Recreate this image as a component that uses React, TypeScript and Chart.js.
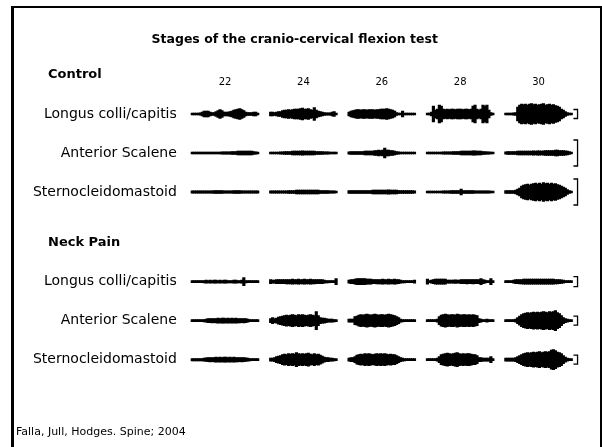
import React, { useEffect, useRef } from 'react';
import { Chart, registerables } from 'chart.js';

Chart.register(...registerables);

// ---- categories / labels ----
const titleText = 'Stages of the cranio-cervical flexion test';
const stages = [22, 24, 26, 28, 30];
const groups = ['Control', 'Neck Pain'];
const muscles = ['Longus colli/capitis', 'Anterior Scalene', 'Sternocleidomastoid'];
const sourceText = 'Falla, Jull, Hodges. Spine; 2004';

// ---- EMG envelope amplitudes (half peak-to-peak, a.u.), 34 samples per stage ----
// Control – Longus colli/capitis
const CL22 = [1,1,1,1,1.2,2,3,3,3,2,1.5,1.5,2.5,3.5,4.5,3.5,2,1.8,2,2.5,3,4,4.5,5,5.5,4.5,3.5,2,1.5,1.5,1.5,2,2,1];
const CL24 = [2,2,1.5,2,2.5,2.5,3.5,4,4,4.5,4,4.5,5,5,5,5.5,6,5,5,5.5,4.5,4,6.5,4,3,2.5,2,1.5,1.2,1.2,1.2,2,2.5,1];
const CL26 = [2,3,3.5,4,4.5,4.5,4,4.5,4.5,4,4.5,4.5,4.5,4,4.5,4.5,5,5,5,5.5,5,4.5,4,3,1.5,1,1,3,1,1,1,1,1,1];
const CL28 = [1,1,2,8,4,5,9,8,5,4.5,5,4.5,5,5,4.5,5,5,5,4.5,5,5,4.5,5,8,9,5,4,5,9,8,9,4,1.5,1];
const CL30 = [1,1,1,1,1.2,1.5,7,9,10,9.5,10,9,10,10.5,9.5,10,9,9.5,10,10.5,9,9.5,10,9,9.5,8.5,8,7,5,4,2.5,1.5,1,1];
// Control – Anterior Scalene
const CA22 = [1,1,1,1,1,1,1,1,1,1,1,1,1,1,1,1.2,1.2,1.2,1.2,1.2,1.5,1.5,1.5,1.8,1.8,2,2,1.8,1.8,2,1.8,1.5,1.2,1];
const CA24 = [1,1,1,1,1,1.2,1.2,1.5,1.5,1.5,1.5,1.8,1.8,1.8,2,2,2.2,2,2,1.8,2,1.8,1.8,1.5,1.5,1.5,1.5,1.2,1.2,1.2,1,1,1,1];
const CA26 = [1.2,1.5,1.5,1.5,1.5,1.5,1.5,1.5,1.8,1.8,1.8,1.8,2,2.5,2.5,3,2.5,3,5,3,3,2.5,2.5,2,1.5,1.2,1,1,1,1,1,1,1,1];
const CA28 = [1,1,1,1,1,1,1,1,1.2,1.2,1.2,1.2,1.2,1.5,1.5,1.5,1.5,1.8,1.8,1.8,2,2,2,2.2,2.2,2,2,1.8,1.5,1.5,1.2,1.2,1,1];
const CA30 = [1.2,1.5,1.5,1.5,1.5,1.5,1.8,1.8,1.8,2,2,2,2,2,2.2,2,2.2,2.2,2,2.2,2.5,2.5,2.5,2.5,2.5,2.8,2.8,2.5,2.5,2.5,2.2,2,1.5,1];
// Control – Sternocleidomastoid
const CS22 = [1.2,1.2,1.2,1.2,1.2,1.2,1.2,1.2,1.2,1.2,1.2,1.3,1.3,1.3,1.3,1.3,1.2,1.2,1.2,1.2,1.2,1.3,1.3,1.3,1.3,1.2,1.2,1.2,1.2,1.2,1.2,1.2,1.2,1.2];
const CS24 = [1.2,1.2,1.2,1.2,1.2,1.2,1.2,1.2,1.2,1.5,1.5,1.5,1.5,1.8,1.8,2,2,2,2,2,1.8,1.8,2,1.8,1.8,1.5,1.5,1.5,1.5,1.5,1.2,1.2,1.2,1];
const CS26 = [1.5,1.5,1.5,1.5,1.5,1.5,1.5,1.5,1.5,1.5,1.5,1.5,1.8,1.8,2,2,2,2,2,2,2.2,2,2,1.8,1.8,1.5,1.5,1.5,1.5,1.5,1.5,1.5,1.5,1.2];
const CS28 = [1,1,1,1,1,1,1,1,1.2,1.2,1.2,1.2,1.5,1.5,1.5,1.5,1.5,3,1.5,1.5,1.5,1.5,1.5,1.5,1.2,1.2,1.2,1.2,1.2,1.2,1.2,1.2,1,1];
const CS30 = [1.5,1.5,1.5,1.5,1.5,2,3,4,6,7,7.5,8,7,8,8.5,9,8,9,8,9.5,8.5,9,8,9,8,8.5,7.5,7,6,5,4,2.5,1.5,1];
// Neck Pain – Longus colli/capitis
const NL22 = [1,1,1,1,1,1,1.2,1.5,1.2,1.5,1.2,1.5,1.5,1.2,1.5,1.2,1.5,1.5,1.2,1.2,1.2,1.5,1.5,1.2,1.2,1.5,4,1.2,1,1,1,1,1,1];
const NL24 = [2,1.5,1.5,2,2,2,2,2,2.2,2.2,2.2,2.5,2.2,2.2,2.5,2.2,2.2,2.5,2.2,2.2,2.5,2.2,2.2,2,2,2,2,1.5,1.2,1.2,1,1,1,3];
const NL26 = [1.5,2,2,2.5,3,3,3,3,3,2.5,2.5,2.5,2,2,2.2,2.2,2.2,2.5,2.2,2.2,2.5,2.2,2.2,2.5,2.2,2,1.5,1.2,1.2,1,1,1,1,1.5];
const NL28 = [2.5,1,1.5,2,2.5,2.5,2.5,2.5,2.5,2.5,1.5,1.5,1.5,1.5,1.8,1.5,1.5,2,2,2,2.2,2,2,2.2,2,2,2,3,2,1.5,1,1,3,1];
const NL30 = [1,1,1,1,1.5,2,2,2.2,2.2,2.5,2.5,2.5,2.5,2.5,2.5,2.5,2.5,2.5,2.5,2.5,2.5,2.5,2.5,2.5,2.5,2.2,2.2,2,1.8,1.5,1,1,1,1];
// Neck Pain – Anterior Scalene
const NA22 = [1,1,1,1,1,1,1.2,1.5,2,2,2.2,2,2.2,2.5,2.2,2.5,2.5,2.2,2.5,2.2,2.5,2.2,2.5,2.2,2.2,2,2.2,2,1.5,1,1,1,1,1];
const NA24 = [2,3,2,2.5,3.5,4,4.5,5,5.5,5,5.5,6,5.5,5,6,5.5,6,5.5,5,5.5,6,5.5,5,9,5,3,2.5,2.5,2,1.5,1.5,1.5,1.2,1];
const NA26 = [1.5,1.5,1.5,4,4.5,5.5,6,5.5,6,6.5,6,5.5,6,6.5,6,5.5,6,6,5.5,6,6.5,6,5.5,5,4,3,1.5,1.2,1,1,1,1,1,1];
const NA28 = [1,1,1,1,1,1.5,4,5.5,6,6.5,6,5.5,6,6,5.5,6.5,6,5.5,6,6,5.5,6,5.5,6,5.5,5,2,1.5,1,1,1.5,1,1,1];
const NA30 = [1,1,1,1,1,1.5,3,4.5,6,7,7.5,8,7.5,8,8.5,8,8.5,8,8.5,9,8.5,8,9,8.5,9,10,8,7,5,3,2,1.5,1,1];
// Neck Pain – Sternocleidomastoid
const NS22 = [1.2,1.2,1.2,1.2,1.2,1.2,1.5,1.8,2,2.2,2,2.2,2.5,2.2,2.5,2.2,2.5,2.5,2.2,2.5,2.2,2.5,2.2,2.2,2,2.2,2,1.8,1.5,1.2,1,1,1,1];
const NS24 = [1.5,1.5,2,3,3.5,4,5,5.5,5,6,5.5,6,5.5,7,6,5.5,6,5.5,6,6.5,5.5,5,6,5,5.5,4.5,3.5,2.5,2,2,1.5,1.5,1.2,1];
const NS26 = [1.5,2,2,3,4.5,5,5.5,5,6,5.5,6,5.5,5,5.5,6,5.5,6,5.5,6,5.5,5,5.5,5,5,4,3,2,1.5,1.2,1,1,1,1,1];
const NS28 = [1,1,1,1,1,1.5,3,5,5.5,6,6.5,6,5.5,6,6.5,7,6,5.5,6,5.5,6,6,5.5,5,5,4,2,2,1.5,1.5,1.5,1.5,3,1];
const NS30 = [1.5,1.5,1.5,1.5,1.5,2,3,4,5,6,6.5,7,6.5,7,7.5,7,7.5,8,7,7.5,8,7.5,8,9.5,10,9,7.5,7,6,4,2.5,1.5,1,1];

// calibration bar heights (full height, a.u.) per row
const scaleBars = [9, 26, 26, 10, 9, 9];

// ---- layout constants (not data) ----
const rowTraces = [
  [CL22, CL24, CL26, CL28, CL30],
  [CA22, CA24, CA26, CA28, CA30],
  [CS22, CS24, CS26, CS28, CS30],
  [NL22, NL24, NL26, NL28, NL30],
  [NA22, NA24, NA26, NA28, NA30],
  [NS22, NS24, NS26, NS28, NS30],
];
const rowPos = [0, 1, 2, 4.3, 5.3, 6.3];
const headerPos = [-1, 3.3];
const rowLabels = [...muscles, ...muscles];
const AMP = 1 / 39;
const HALF = 0.86;
const BX0 = 30.89;
const BX1 = 30.995;
const FONT = '"DejaVu Sans", sans-serif';

const decor = {
  id: 'decor',
  afterDraw(chart: any) {
    const { ctx } = chart;
    const y = chart.scales.y;
    ctx.save();
    ctx.fillStyle = '#000';
    ctx.fillRect(11, 6, 3, 441);
    ctx.fillRect(11, 6, 591, 2);
    ctx.fillRect(600, 6, 2, 441);
    ctx.textAlign = 'left';
    ctx.textBaseline = 'middle';
    ctx.font = `bold 13px ${FONT}`;
    groups.forEach((g, i) => ctx.fillText(g, 48, y.getPixelForValue(headerPos[i])));
    ctx.font = `11px ${FONT}`;
    ctx.fillText(sourceText, 16, 432);
    ctx.restore();
  },
};

export default function App() {
  const ref = useRef<HTMLCanvasElement>(null);
  useEffect(() => {
    if (!ref.current) return;
    const barSets = rowTraces.map((traces, r) => ({
      type: 'bar' as const,
      data: traces.flatMap((amps, s) =>
        amps.map((a, i) => ({
          x: stages[s] - HALF + (i + 0.5) * ((2 * HALF) / amps.length),
          y: [rowPos[r] - a * AMP, rowPos[r] + a * AMP],
        }))
      ),
      backgroundColor: '#000',
      borderWidth: 0,
      barThickness: 2.5,
      grouped: false,
    }));
    const bracketData: any[] = [];
    scaleBars.forEach((h, r) => {
      const t = rowPos[r] - (h / 2) * AMP;
      const b = rowPos[r] + (h / 2) * AMP;
      bracketData.push({ x: BX0, y: t }, { x: BX1, y: t }, { x: BX1, y: b }, { x: BX0, y: b }, { x: BX0, y: null });
    });
    const chart = new Chart(ref.current, {
      type: 'bar',
      data: {
        datasets: [
          ...barSets,
          {
            type: 'line',
            data: bracketData,
            borderColor: '#000',
            borderWidth: 1.3,
            pointRadius: 0,
            spanGaps: false,
            fill: false,
            tension: 0,
          } as any,
        ] as any,
      },
      options: {
        animation: false,
        responsive: false,
        layout: { padding: { left: 0, right: 12.5, top: 0, bottom: 60 } },
        plugins: {
          legend: { display: false },
          tooltip: { enabled: false },
          title: {
            display: true,
            text: titleText,
            color: '#000',
            font: { family: FONT, size: 12.5, weight: 'bold' },
            padding: { top: 32, bottom: 0 },
          },
        },
        scales: {
          x: {
            type: 'linear',
            position: 'top',
            offset: false,
            min: 21,
            max: 31.3,
            grid: { display: false, drawTicks: false, tickLength: 0 },
            border: { display: false },
            afterBuildTicks: (axis: any) => {
              axis.ticks = stages.map((v) => ({ value: v }));
            },
            afterFit: (axis: any) => {
              axis.height = 43.6;
            },
            ticks: {
              color: '#000',
              font: { family: FONT, size: 10 },
              padding: 2,
              autoSkip: false,
              maxRotation: 0,
              callback: (v: any) => String(v),
            },
          },
          y: {
            type: 'linear',
            reverse: true,
            offset: false,
            min: -0.6,
            max: 7.0,
            grid: { display: false, drawTicks: false, tickLength: 0 },
            border: { display: false },
            afterBuildTicks: (axis: any) => {
              axis.ticks = rowPos.map((v) => ({ value: v }));
            },
            afterFit: (axis: any) => {
              axis.width = 185.8;
            },
            ticks: {
              color: '#000',
              font: { family: FONT, size: 14 },
              padding: 9,
              autoSkip: false,
              callback: (_v: any, i: number) => rowLabels[i],
            },
          },
        },
      } as any,
      plugins: [decor],
    });
    return () => chart.destroy();
  }, []);
  return (
    <div style={{ position: 'absolute', left: 0, top: 0, width: 602, height: 447, background: '#fff' }}>
      <canvas ref={ref} width={602} height={447} style={{ display: 'block' }} />
    </div>
  );
}
